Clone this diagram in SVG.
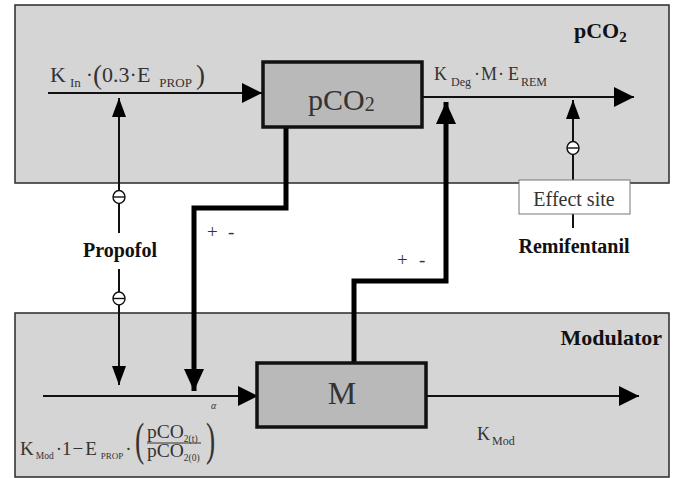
<svg xmlns="http://www.w3.org/2000/svg" width="677" height="478" viewBox="0 0 677 478">
<style>
.panel{fill:#d5d5d5;stroke:#2a2a2a;stroke-width:1.5}
.box{fill:#b9b9b9;stroke:#111;stroke-width:3.5}
.thin{fill:none;stroke:#111;stroke-width:2}
.thick{fill:none;stroke:#000;stroke-width:5}
.f{font-family:"Liberation Serif","Times New Roman",serif;fill:#333}
.b{font-family:"Liberation Serif","Times New Roman",serif;font-weight:bold;fill:#111}
.inh{fill:#fff;stroke:#111;stroke-width:1.4}
</style>
<defs>
<marker id="aBig" markerUnits="userSpaceOnUse" markerWidth="20" markerHeight="20" refX="20" refY="10" orient="auto"><path d="M0,0 L20,10 L0,20 z" fill="#000"/></marker>
<marker id="aSmall" markerUnits="userSpaceOnUse" markerWidth="19" markerHeight="14" refX="19" refY="7" orient="auto"><path d="M0,0 L19,7 L0,14 z" fill="#000"/></marker>
<marker id="aThick" markerUnits="userSpaceOnUse" markerWidth="22" markerHeight="20" refX="22" refY="10" orient="auto"><path d="M0,0 L22,10 L0,20 z" fill="#000"/></marker>
</defs>

<g id="panel-pco2">
<rect class="panel" x="15" y="5" width="654" height="178"/>
<text class="b" x="574" y="38" font-size="22">pCO<tspan font-size="15" y="42">2</tspan></text>
</g>
<g id="panel-modulator">
<rect class="panel" x="15" y="313" width="654" height="164"/>
<text class="b" x="662" y="345" font-size="22" text-anchor="end">Modulator</text>
</g>

<g id="connectors">
<line class="thin" x1="48" y1="93" x2="262" y2="93" marker-end="url(#aBig)"/>
<line class="thin" x1="119" y1="191" x2="119" y2="98" marker-end="url(#aSmall)"/>
<line class="thin" x1="119" y1="203" x2="119" y2="233"/>
<line class="thin" x1="119" y1="269" x2="119" y2="292"/>
<line class="thin" x1="119" y1="305" x2="119" y2="385" marker-end="url(#aSmall)"/>
<path class="thick" d="M286,127 V208 H194 V391" marker-end="url(#aThick)"/>
<path class="thick" d="M354,363 V281 H446 V102" marker-end="url(#aThick)"/>
<line class="thin" x1="422" y1="97" x2="634" y2="97" marker-end="url(#aBig)"/>
<line class="thin" x1="573" y1="180" x2="573" y2="155"/>
<line class="thin" x1="573" y1="142" x2="573" y2="100" marker-end="url(#aSmall)"/>
<line class="thin" x1="573" y1="214" x2="573" y2="228" stroke-width="1.5"/>
<line class="thin" x1="43" y1="396" x2="258" y2="396" marker-end="url(#aBig)"/>
<line class="thin" x1="426" y1="396" x2="639" y2="396" marker-end="url(#aBig)"/>
<text class="f" font-size="19" fill="#111" x="207" y="238">+</text>
<text class="f" font-size="19" fill="#111" x="228" y="238">-</text>
<text class="f" font-size="19" fill="#111" x="397" y="266">+</text>
<text class="f" font-size="19" fill="#111" x="419" y="266">-</text>
</g>

<g id="label-kin">
<text class="f" font-size="22" x="50" y="82">K<tspan dx="4" y="87" font-size="13">In</tspan><tspan dx="5" y="82">·</tspan><tspan y="84" font-size="27">(</tspan><tspan y="82">0.3</tspan><tspan>·</tspan><tspan>E</tspan><tspan dx="9" y="87" font-size="13">PROP</tspan><tspan dx="4" y="84" font-size="27">)</tspan></text>
</g>
<g id="label-kdeg">
<text class="f" font-size="18" x="434" y="80">K<tspan dx="4" y="86" font-size="12">Deg</tspan><tspan dx="3" y="80">·</tspan><tspan dx="1">M</tspan><tspan dx="1">·</tspan><tspan dx="4">E</tspan><tspan dx="2" y="86" font-size="12">REM</tspan></text>
</g>
<g id="label-kmod">
<text class="f" font-size="18" x="477" y="440">K<tspan dx="2" y="445" font-size="12">Mod</tspan></text>
</g>
<g id="label-kmod-formula">
<text class="f" font-size="19" x="20" y="455">K<tspan dx="2" y="459" font-size="9.5">Mod</tspan><tspan dx="2" y="455">·</tspan><tspan>1</tspan><tspan dx="1">−</tspan><tspan dx="2">E</tspan><tspan dx="4" y="459" font-size="9">PROP</tspan><tspan dx="2" y="455">·</tspan></text>
<text class="f" font-size="46" transform="translate(135,455) scale(0.6,1)">(</text>
<text class="f" font-size="19.5" x="147" y="438">pCO<tspan font-size="9.5" y="442">2(t)</tspan></text>
<line x1="147" y1="443" x2="201" y2="443" stroke="#333" stroke-width="1"/>
<text class="f" font-size="19.5" x="147" y="457">pCO<tspan font-size="9.5" y="461">2(0)</tspan></text>
<text class="f" font-size="46" transform="translate(206,455) scale(0.6,1)">)</text>
<text class="f" font-size="10" font-style="italic" x="211" y="409">α</text>
</g>

<g id="node-pco2">
<rect class="box" x="263" y="62" width="159" height="65"/>
<text class="f" fill="#111" font-size="30" x="308" y="110">pCO<tspan font-size="20" y="111">2</tspan></text>
</g>
<g id="node-m">
<rect class="box" x="257" y="363" width="169" height="64"/>
<text class="f" fill="#111" font-size="32" x="342" y="404" text-anchor="middle">M</text>
</g>
<g id="node-effect-site">
<rect x="519" y="180" width="111" height="34" fill="#fff" stroke="#777" stroke-width="1"/>
<text class="f" font-size="20" x="574" y="206" text-anchor="middle">Effect site</text>
</g>
<g id="node-propofol">
<text class="b" font-size="20" x="120" y="257" text-anchor="middle">Propofol</text>
</g>
<g id="node-remifentanil">
<text class="b" font-size="20" x="574" y="253" text-anchor="middle">Remifentanil</text>
</g>
<g id="inhibit-1"><ellipse class="inh" cx="119" cy="197" rx="6" ry="6.5"/><line x1="113" y1="197" x2="125" y2="197" stroke="#111" stroke-width="1.4"/></g>
<g id="inhibit-2"><ellipse class="inh" cx="119" cy="298.5" rx="6" ry="6.5"/><line x1="113" y1="298.5" x2="125" y2="298.5" stroke="#111" stroke-width="1.4"/></g>
<g id="inhibit-3"><ellipse class="inh" cx="573" cy="148" rx="6" ry="6.5"/><line x1="567" y1="148" x2="579" y2="148" stroke="#111" stroke-width="1.4"/></g>
</svg>
